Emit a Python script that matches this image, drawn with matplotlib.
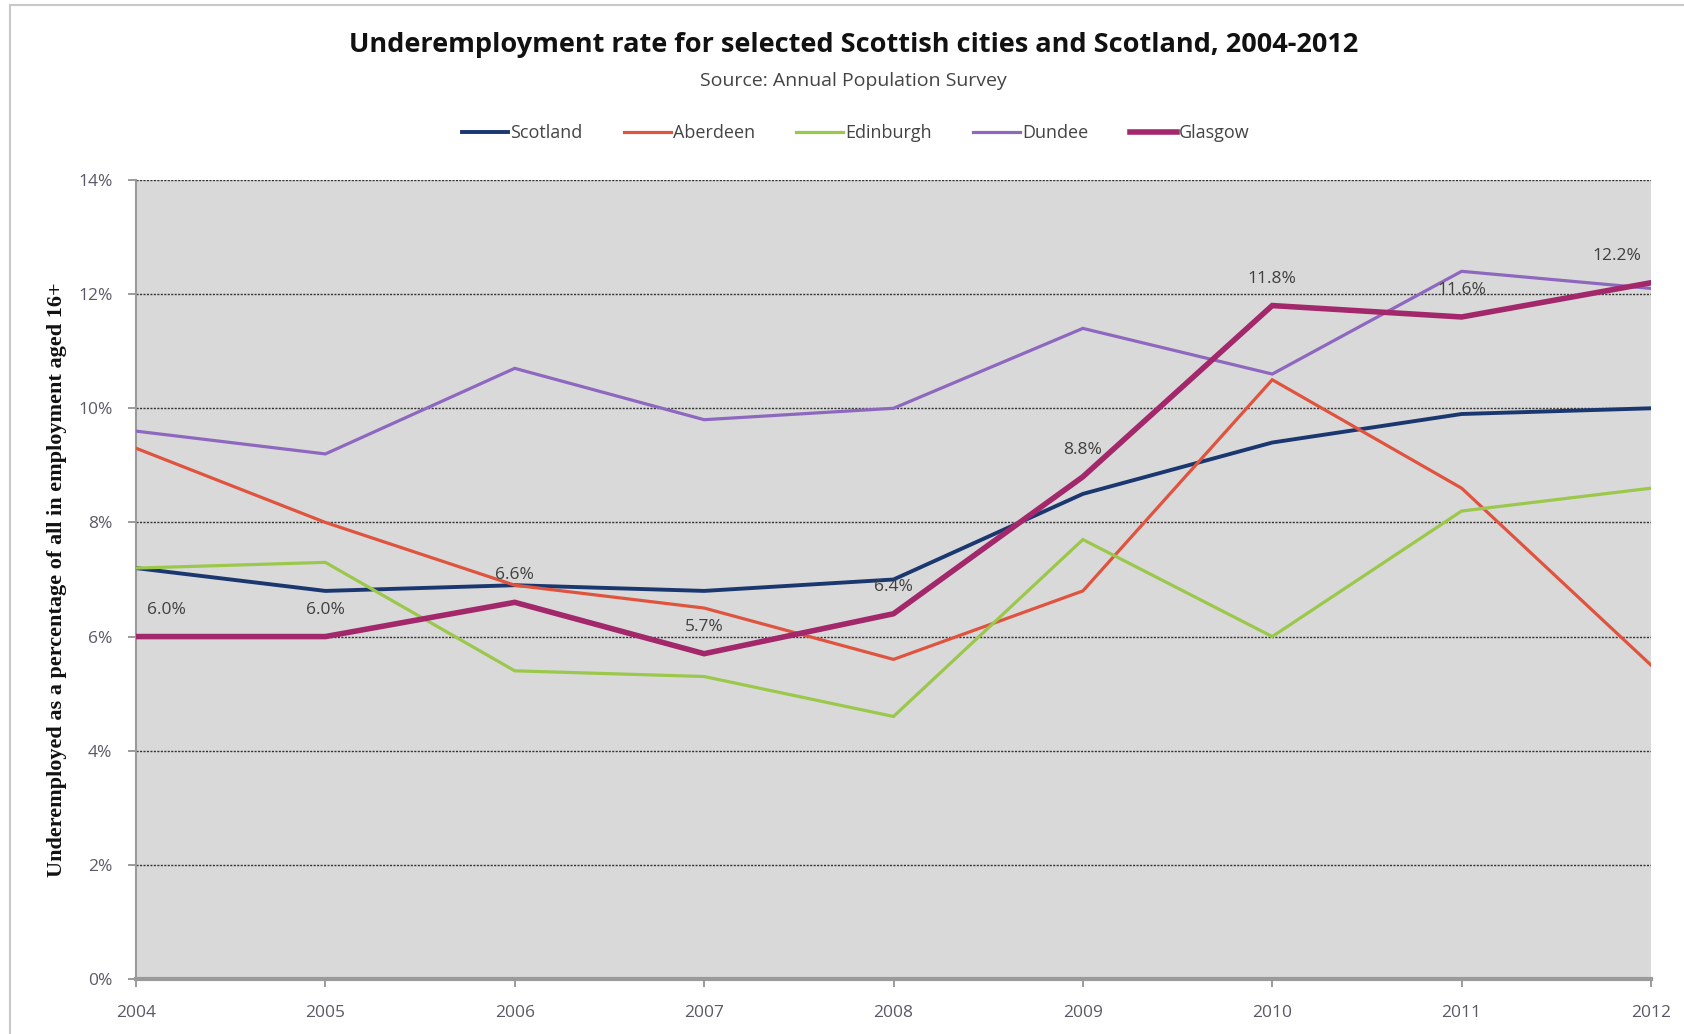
import matplotlib
matplotlib.use("Agg")
import matplotlib.pyplot as plt
from matplotlib.patches import Rectangle
from matplotlib.transforms import offset_copy

years = [2004, 2005, 2006, 2007, 2008, 2009, 2010, 2011, 2012]
scotland = [7.2, 6.8, 6.9, 6.8, 7.0, 8.5, 9.4, 9.9, 10.0]
aberdeen = [9.3, 8.0, 6.9, 6.5, 5.6, 6.8, 10.5, 8.6, 5.5]
edinburgh = [7.2, 7.3, 5.4, 5.3, 4.6, 7.7, 6.0, 8.2, 8.6]
dundee = [9.6, 9.2, 10.7, 9.8, 10.0, 11.4, 10.6, 12.4, 12.1]
glasgow = [6.0, 6.0, 6.6, 5.7, 6.4, 8.8, 11.8, 11.6, 12.2]
yticks = [0, 2, 4, 6, 8, 10, 12, 14]

W, H = 1684, 1034
fig = plt.figure(figsize=(W / 100, H / 100), dpi=100)
fig.patch.set_facecolor("white")
fig.patches.append(Rectangle((10 / W, -0.1), 1.2, 1.1 - 5 / H, transform=fig.transFigure,
                             fill=False, edgecolor="#c8c8c8", linewidth=1.5))

ax = fig.add_axes([136 / W, 1 - 979 / H, (1651 - 136) / W, (979 - 180) / H])
ax.set_facecolor("#d9d9d9")

series = [
    ("Scotland", scotland, "#1b3770", 2.8),
    ("Aberdeen", aberdeen, "#e0533f", 2.3),
    ("Edinburgh", edinburgh, "#9bc84a", 2.3),
    ("Dundee", dundee, "#8e68bf", 2.3),
    ("Glasgow", glasgow, "#a3286b", 4.0),
]
handles = []
for name, vals, col, lw in series:
    h, = ax.plot(years, vals, color=col, linewidth=lw, label=name, solid_joinstyle="miter", zorder=3)
    handles.append(h)

for y in yticks[1:]:
    ax.axhline(y, color="#333333", linestyle=(0, (1.5, 1.0)), linewidth=1.0, zorder=1)

ax.set_xlim(2004, 2012)
ax.set_ylim(0, 14)
ax.set_yticks(yticks)
ax.set_yticklabels([f"{v}%" for v in yticks])
ax.set_xticks(years)
ax.set_xticklabels([str(y) for y in years])
ax.tick_params(axis="both", colors="#8a8a8a", labelcolor="#5a5a66", labelsize=12.5, length=6, width=1.2)
ax.tick_params(axis="x", pad=13)
ax.tick_params(axis="y", pad=11)
for lbl in ax.get_xticklabels() + ax.get_yticklabels():
    lbl.set_fontfamily("Open Sans")
for side in ["top", "right"]:
    ax.spines[side].set_visible(False)
ax.spines["left"].set_color("#9a9a9a")
ax.spines["left"].set_linewidth(1.5)
ax.spines["bottom"].set_color("#9a9a9a")
ax.spines["bottom"].set_linewidth(3)

for i, (x, v) in enumerate(zip(years, glasgow)):
    dx = 0.0
    if i == 0:
        dx = 0.16
    elif i == len(years) - 1:
        dx = -0.18
    tr = offset_copy(ax.transData, fig=fig, x=0, y=27, units="dots")
    ax.text(x + dx, v, f"{v:.1f}%", transform=tr, ha="center", va="center",
            fontsize=12.5, color="#404040", fontfamily="Open Sans", zorder=5)

ax.set_ylabel("Underemployed as a percentage of all in employment aged 16+", fontsize=16,
              fontweight="bold", fontfamily="Liberation Serif", color="#111111", labelpad=8)

fig.text(0.507, 1 - 45 / H, "Underemployment rate for selected Scottish cities and Scotland, 2004-2012",
         ha="center", va="center", fontsize=19.5, fontweight="bold", fontfamily="Open Sans", color="#111111")
fig.text(0.507, 1 - 81 / H, "Source: Annual Population Survey", ha="center", va="center",
         fontsize=14, fontfamily="Open Sans", color="#444444")

leg = fig.legend(handles=handles, loc="center", bbox_to_anchor=(0.508, 1 - 133 / H), ncol=5,
                 frameon=False, handlelength=2.6, handletextpad=0.1, columnspacing=2.3,
                 prop={"family": "Open Sans", "size": 13})
for t in leg.get_texts():
    t.set_color("#444444")

fig.savefig("out.png", dpi=100)
